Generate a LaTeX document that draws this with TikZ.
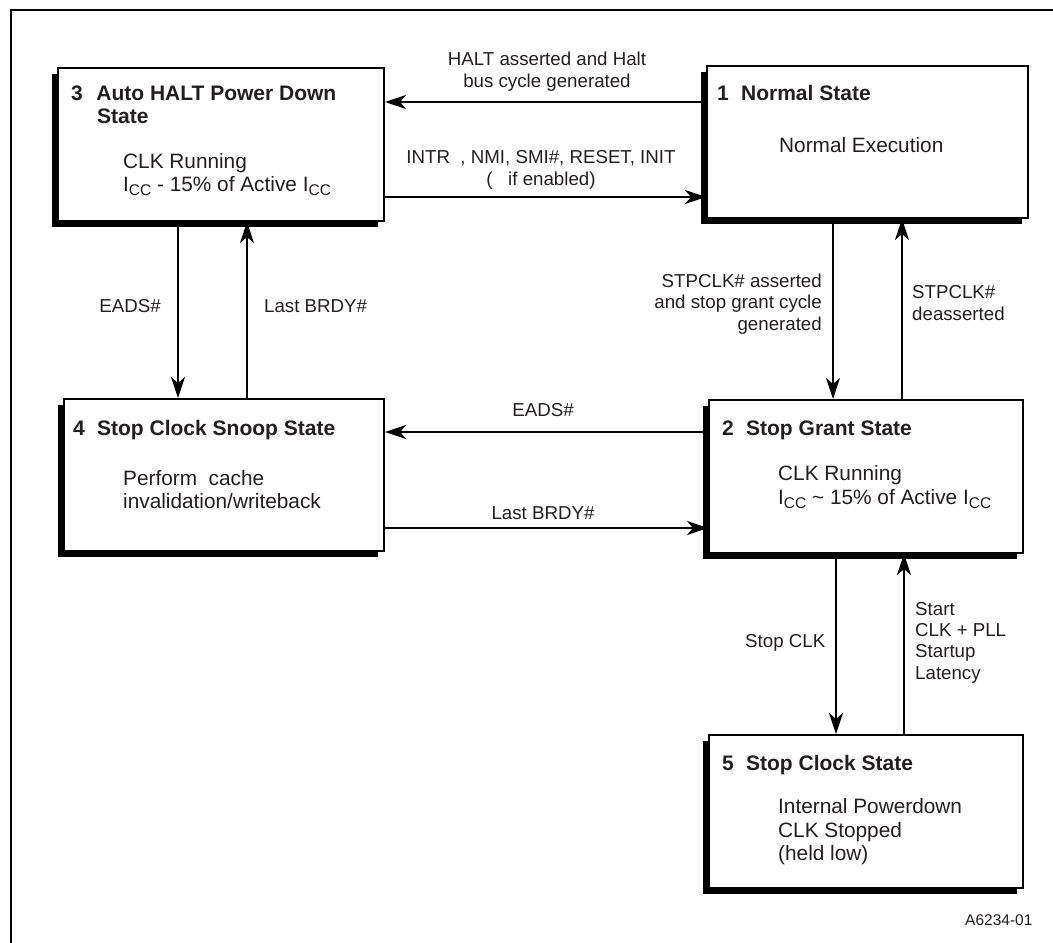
\documentclass[tikz,border=0pt]{standalone}
\usepackage{fontspec}
\setmainfont{Liberation Sans}
\usetikzlibrary{arrows.meta,shadows}
\definecolor{ink}{RGB}{35,31,32}
\newcommand{\icc}{I\raisebox{-4pt}{\fontsize{15.5}{15.5}\selectfont CC}}
\begin{document}
\begin{tikzpicture}[x=1pt,y=-1pt,
  statebox/.style={draw=black, line width=2pt, fill=white, anchor=north west, inner sep=0pt,
    drop shadow={shadow xshift=-6pt, shadow yshift=-6pt, fill=black, opacity=1}},
  arr/.style={line width=2pt, -{Stealth[length=21pt,width=14pt,inset=6pt]}},
  ttl/.style={anchor=base west, inner sep=0pt, font=\fontsize{21}{24}\selectfont\bfseries, text=ink},
  body/.style={anchor=base west, inner sep=0pt, align=left, font=\fontsize{20.8}{23.5}\selectfont, text=ink},
  lbl/.style={inner sep=0pt, font=\fontsize{18.7}{21.3}\selectfont, text=ink},
]
\useasboundingbox (0,0) rectangle (1053,943);
\draw[line width=2pt] (11,943) -- (11,10) -- (1053,10);

% state boxes
\node[statebox, minimum width=326pt, minimum height=153pt] (b3) at (57,67) {};
\node[statebox, minimum width=321pt, minimum height=152pt] (b1) at (706,65) {};
\node[statebox, minimum width=320pt, minimum height=152pt] (b4) at (63,398) {};
\node[statebox, minimum width=314pt, minimum height=153pt] (b2) at (708,399) {};
\node[statebox, minimum width=314pt, minimum height=153pt] (b5) at (708,734) {};

% box texts (multi-line nodes: base = last line)
\node[ttl] (t3) at (71,100) {3\hspace{13.5pt}Auto HALT Power Down};
\node[ttl] (t3b) at (97,123) {State};
\node[body] (d3) at (123,191.5) {CLK Running\\\icc{} - 15\% of Active \icc};

\node[ttl] (t1) at (717,100) {1\hspace{12.3pt}Normal State};
\node[body] (d1) at (779,152) {Normal Execution};

\node[ttl] (t4) at (73,435) {4\hspace{12.3pt}Stop Clock Snoop State};
\node[body] (d4) at (123,508.5) {Perform\ \ cache\\invalidation/writeback};

\node[ttl] (t2) at (722,435) {2\hspace{12.3pt}Stop Grant State};
\node[body] (d2) at (778,504) {CLK Running\\\icc{} \textasciitilde{} 15\% of Active \icc};

\node[ttl] (t5) at (722,770) {5\hspace{12.3pt}Stop Clock State};
\node[body] (d5) at (778,860.5) {Internal Powerdown\\CLK Stopped\\(held low)};

% connector end points
\coordinate (h1) at ([yshift=40pt]b1.west);
\coordinate (h2) at ([yshift=-52.5pt]b3.east);
\coordinate (v1) at ([xshift=-43pt]b3.south);
\coordinate (v2) at ([xshift=23pt]b4.north);
\coordinate (v3) at ([xshift=-34.5pt]b1.south);
\coordinate (v4) at ([xshift=36pt]b2.north);
\coordinate (h3) at ([yshift=44.5pt]b2.west);
\coordinate (h4) at ([yshift=-53pt]b4.east);
\coordinate (v5) at ([xshift=-30pt]b2.south);
\coordinate (v6) at ([xshift=38pt]b5.north);

% connectors
\draw[arr] (h1) -- (h1 -| b3.east);
\draw[arr] (h2) -- (h2 -| b1.west);
\draw[arr] (v1) -- (v1 |- b4.north);
\draw[arr] (v2) -- (v2 |- b3.south);
\draw[arr] (v3) -- (v3 |- b2.north);
\draw[arr] (v4) -- (v4 |- b1.south);
\draw[arr] (h3) -- (h3 -| b4.east);
\draw[arr] (h4) -- (h4 -| b2.west);
\draw[arr] (v5) -- (v5 |- b5.north);
\draw[arr] (v6) -- (v6 |- b2.south);

% connector labels
\node[lbl, anchor=base, align=center] (l1) at (547,87) {HALT asserted and Halt\\bus cycle generated};
\node[lbl, anchor=base, align=center] (l2) at (541,185) {INTR\ \ , NMI, SMI\#, RESET, INIT\\(\ \ \ if enabled)};
\node[lbl, anchor=base] (l3) at (130,312) {EADS\#};
\node[lbl, anchor=base west] (l4) at (264,312) {Last BRDY\#};
\node[lbl, anchor=base east, align=right] (l5) at (822,330) {STPCLK\# asserted\\and stop grant cycle\\generated};
\node[lbl, anchor=base west, align=left] (l6) at (912,320) {STPCLK\#\\deasserted};
\node[lbl, anchor=base] (l7) at (543,416) {EADS\#};
\node[lbl, anchor=base] (l8) at (543,519) {Last BRDY\#};
\node[lbl, anchor=base west] (l9) at (745,647) {Stop CLK};
\node[lbl, anchor=base west, align=left] (l10) at (915,679) {Start\\CLK + PLL\\Startup\\Latency};
\node[lbl, anchor=base west, font=\fontsize{15.5}{18}\selectfont] (l11) at (965,925) {A6234-01};
\end{tikzpicture}
\end{document}
